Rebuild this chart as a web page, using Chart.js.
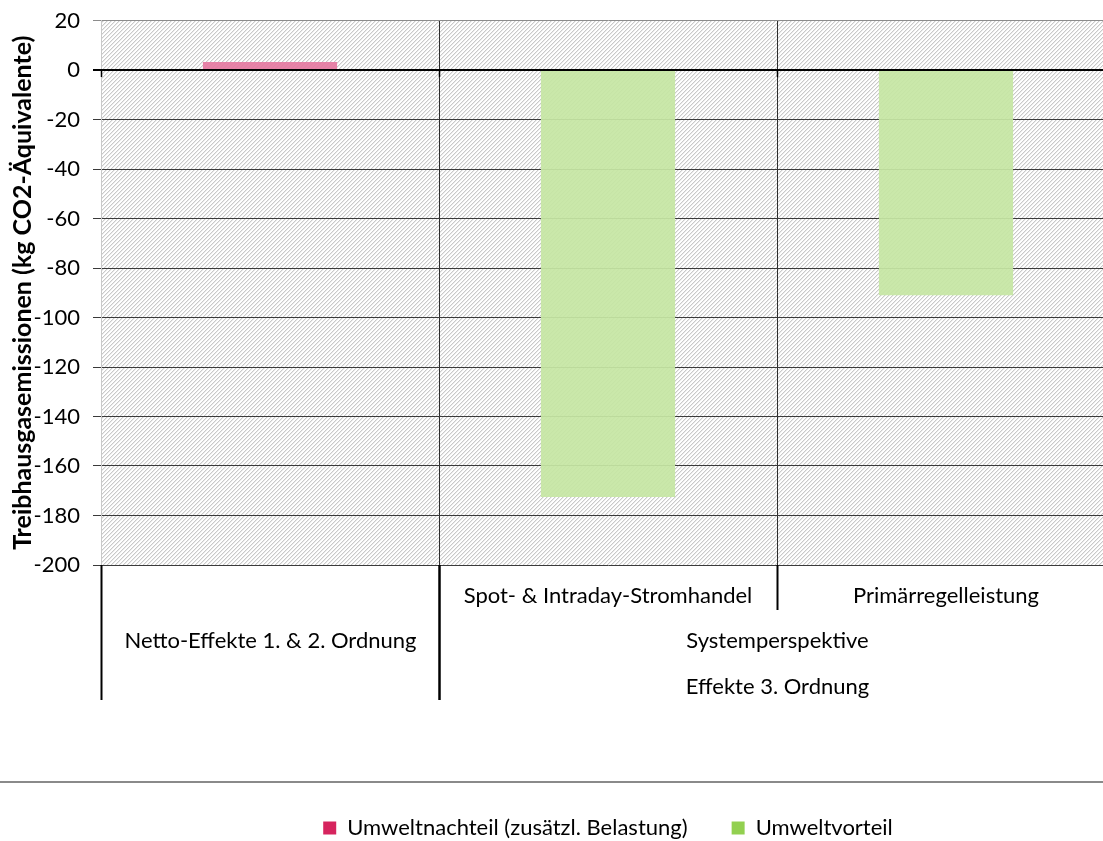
<!DOCTYPE html>
<html><head><meta charset="utf-8">
<script src="https://cdn.jsdelivr.net/npm/chart.js@4"></script>
<style>html,body{margin:0;padding:0;overflow:hidden;background:#fff}#wrap{width:1116px;height:841px}</style>
</head><body><div id="wrap"><canvas id="c" width="1116" height="841"></canvas></div>
<script>
// ---- data ----
const categories = ["Netto-Effekte 1. & 2. Ordnung", "Spot- & Intraday-Stromhandel", "Primärregelleistung"];
const subLabels = ["", "Spot- & Intraday-Stromhandel", "Primärregelleistung"];
const groupLabels = [["Netto-Effekte 1. & 2. Ordnung"], ["Systemperspektive", "Effekte 3. Ordnung"]];
const groupSpans = [[0, 0], [1, 2]];
const seriesNames = ["Umweltnachteil (zusätzl. Belastung)", "Umweltvorteil"];
const nachteilValues = [3.2, null, null];
const vorteilValues = [null, -172.5, -91];
const yMin = -200, yMax = 20, yStep = 20;

// ---- styles ----
const FONT = "Lato, 'Open Sans', sans-serif";
const barColors = ["rgba(229,122,161,0.93)", "rgba(198,230,164,0.93)"];
const legendColors = ["#d6245e", "#92d050"];

function makeHatch() {
  const c = document.createElement('canvas'); c.width = 4; c.height = 4;
  const g = c.getContext('2d');
  g.fillStyle = '#ffffff'; g.fillRect(0, 0, 4, 4);
  for (let i = 0; i < 4; i++) {
    g.fillStyle = '#c9c9c9'; g.fillRect(i, 3 - i, 1, 1);
    g.fillStyle = '#ebebeb'; g.fillRect((i + 1) % 4, 3 - i, 1, 1);
  }
  return g.createPattern(c, 'repeat');
}
const hatch = makeHatch();

const decor = {
  id: 'decor',
  beforeDraw(chart) {
    const {ctx, chartArea: a} = chart;
    ctx.save(); ctx.fillStyle = hatch;
    ctx.fillRect(a.left, a.top, a.right - a.left, a.bottom - a.top);
    ctx.restore();
  },
  afterDatasetsDraw(chart) {
    const {ctx, chartArea: a, scales: {x, y}} = chart;
    const y0 = y.getPixelForValue(0);
    ctx.save();
    ctx.strokeStyle = '#000'; ctx.lineWidth = 2;
    ctx.beginPath(); ctx.moveTo(a.left - 6, y0); ctx.lineTo(a.right, y0); ctx.stroke();
    ctx.lineWidth = 1.5;
    const half = (x.getPixelForValue(1) - x.getPixelForValue(0)) / 2;
    for (let i = 0; i <= categories.length; i++) {
      const px = Math.round(x.getPixelForValue(0) - half + i * 2 * half) + 0.5;
      ctx.beginPath(); ctx.moveTo(px, y0); ctx.lineTo(px, y0 + 7); ctx.stroke();
    }
    ctx.restore();
  },
  afterDraw(chart) {
    const {ctx, chartArea: a, scales: {x}} = chart;
    const half = (x.getPixelForValue(1) - x.getPixelForValue(0)) / 2;
    const edge = i => Math.round(x.getPixelForValue(i) - half) + 0.5;
    const row1 = a.bottom + 31, row2 = a.bottom + 76, row3 = a.bottom + 122;
    const subBottom = a.bottom + 45, grpBottom = a.bottom + 135;
    ctx.save();
    ctx.strokeStyle = '#000'; ctx.lineWidth = 2;
    groupSpans.forEach(([s, e]) => {
      [s, e + 1].forEach(i => {
        const px = edge(i);
        ctx.beginPath(); ctx.moveTo(px, a.bottom); ctx.lineTo(px, grpBottom); ctx.stroke();
      });
    });
    groupSpans.forEach(([s, e]) => {
      if (e > s) for (let i = s + 1; i <= e; i++) {
        if (!subLabels[i - 1] && !subLabels[i]) continue;
        const px = edge(i);
        ctx.beginPath(); ctx.moveTo(px, a.bottom); ctx.lineTo(px, subBottom); ctx.stroke();
      }
    });
    ctx.fillStyle = '#000'; ctx.textAlign = 'center'; ctx.textBaseline = 'middle';
    ctx.font = "22px " + FONT;
    subLabels.forEach((t, i) => { if (t) ctx.fillText(t, x.getPixelForValue(i), row1); });
    groupLabels.forEach((lines, g) => {
      const [s, e] = groupSpans[g];
      const cx = (edge(s) + edge(e + 1)) / 2;
      lines.forEach((t, k) => ctx.fillText(t, cx, k === 0 ? row2 : row3));
    });
    ctx.strokeStyle = '#8a8a8a'; ctx.lineWidth = 2;
    ctx.beginPath(); ctx.moveTo(0, 782); ctx.lineTo(chart.width, 782); ctx.stroke();
    ctx.restore();
  }
};

new Chart(document.getElementById('c'), {
  type: 'bar',
  data: {
    labels: categories,
    datasets: [
      {label: seriesNames[0], data: nachteilValues, backgroundColor: barColors[0], borderWidth: 0},
      {label: seriesNames[1], data: vorteilValues, backgroundColor: barColors[1], borderWidth: 0}
    ]
  },
  options: {
    responsive: false,
    animation: false,
    devicePixelRatio: 1,
    layout: {padding: {top: 20.5, right: 1, left: 0, bottom: -8}},
    datasets: {bar: {categoryPercentage: 1, barPercentage: 0.397}},
    plugins: {
      tooltip: {enabled: false},
      legend: {
        position: 'bottom', fullSize: false,
        labels: {
          font: {family: FONT, size: 22}, color: '#000', boxWidth: 13, boxHeight: 13, padding: 44,
          generateLabels: chart => chart.data.datasets.map((d, i) => ({
            text: d.label, fillStyle: legendColors[i], strokeStyle: legendColors[i], lineWidth: 0,
            datasetIndex: i, hidden: false, fontColor: '#000'
          }))
        }
      }
    },
    scales: {
      x: {
        stacked: true,
        grid: {
          offset: true, drawTicks: false, lineWidth: 1,
          color: c => c.index === 0 ? 'rgba(0,0,0,0)' : '#2e2e2e'
        },
        border: {display: false},
        ticks: {display: false},
        afterFit: s => { s.height = 208; }
      },
      y: {
        stacked: true,
        min: yMin, max: yMax,
        ticks: {stepSize: yStep, color: '#000', font: {family: FONT, size: 22}, padding: 13},
        grid: {
          tickLength: 8,
          color: c => c.tick && c.tick.value === yMax ? '#8c8c8c' : (c.tick && c.tick.value === 0 ? '#000' : '#3a3a3a'),
          lineWidth: c => c.tick && c.tick.value === 0 ? 2 : 1
        },
        border: {display: true, color: '#c8c8c8', width: 1},
        title: {
          display: true, text: 'Treibhausgasemissionen (kg CO2-Äquivalente)',
          color: '#000', font: {family: FONT, size: 25, weight: 'bold'}, padding: {top: 8, bottom: 0}
        },
        afterFit: s => { s.width = 101; s.paddingTop = 0; s.paddingBottom = 0; }
      }
    }
  },
  plugins: [decor]
});
</script></body></html>
